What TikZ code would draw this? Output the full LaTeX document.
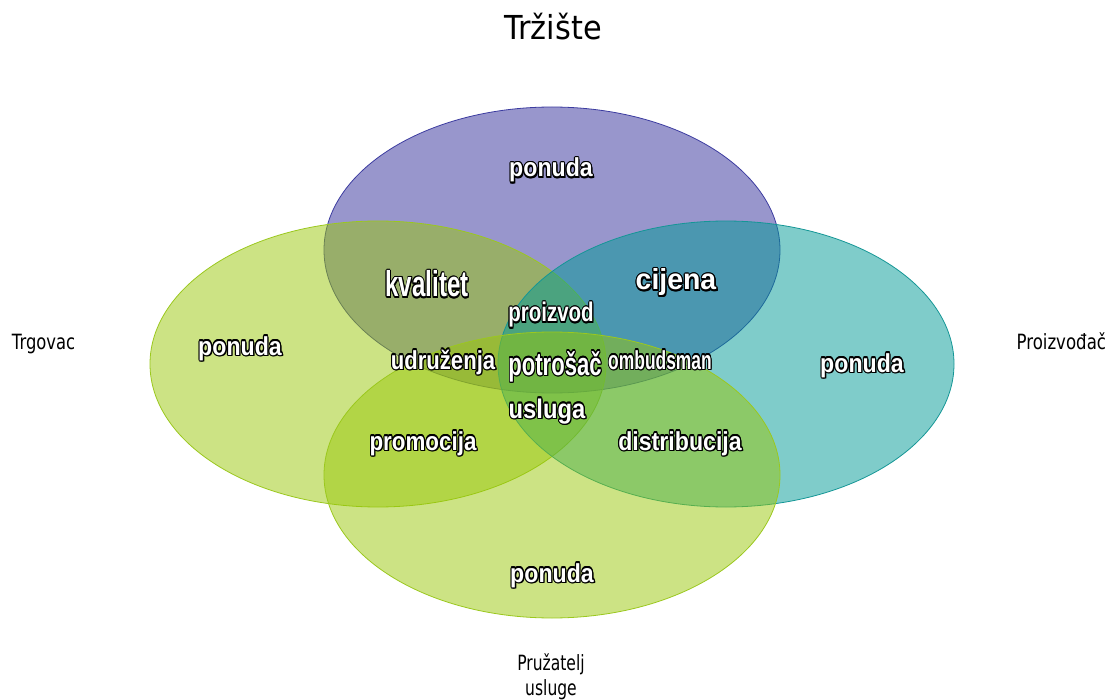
\documentclass[tikz,border=0pt]{standalone}
\usepackage{fontspec}
\usepackage{graphicx}
\setmainfont{DejaVu Sans}
\newfontfamily\lsans{Liberation Sans}
\definecolor{cTop}{RGB}{49,45,153}
\definecolor{cGreen}{RGB}{153,199,9}
\definecolor{cTeal}{RGB}{0,153,149}
\definecolor{bTop}{RGB}{60,60,160}
\definecolor{bGreen}{RGB}{155,200,30}
\definecolor{bTeal}{RGB}{20,150,150}
\newcommand\outl[1]{{%
  \leavevmode
  \rlap{\kern1.6pt\raisebox{-1.6pt}{\color{black}#1}}%
  \foreach \a in {0,30,...,330}{%
    \pgfmathsetmacro\dx{1.2*cos(\a)}%
    \pgfmathsetmacro\dy{1.2*sin(\a)}%
    \rlap{\kern\dx pt\raisebox{\dy pt}{\color{black}#1}}}%
  {\color{white}#1}}}
\newcommand\lbl[3]{\scalebox{#2}[1]{\fontsize{#1}{#1}\selectfont\lsans\bfseries\outl{#3}}}
\newcommand\plain[3]{\scalebox{#2}[1]{\fontsize{#1}{#1}\selectfont #3}}
\tikzset{
  venn/.style={fill opacity=0.5, line width=0.8pt},
  lab/.style={anchor=base, inner sep=0pt, outer sep=0pt},
}
\begin{document}
\begin{tikzpicture}[x=1pt,y=-1pt]
\useasboundingbox (0,0) rectangle (1110,700);
% ellipses
\draw[venn, fill=cTop, draw=bTop] (552,250) ellipse [x radius=228pt, y radius=143pt];
\draw[venn, fill=cGreen, draw=bGreen] (378,364) ellipse [x radius=228pt, y radius=143pt];
\draw[venn, fill=cTeal, draw=bTeal] (726,364) ellipse [x radius=228pt, y radius=143pt];
\draw[venn, fill=cGreen, draw=bGreen] (552,475) ellipse [x radius=228pt, y radius=143pt];
% outer labels
\node[lab] (title) at (553,40) {\plain{33}{0.92}{Tržište}};
\node[lab, anchor=base west] (trg) at (12,349) {\plain{21}{0.78}{Trgovac}};
\node[lab, anchor=base east] (prz) at (1106,349) {\plain{21}{0.79}{Proizvođač}};
\node[lab] (pru1) at (551,670) {\plain{21}{0.74}{Pružatelj}};
\node[lab] (pru2) at (551,695) {\plain{21}{0.74}{usluge}};
% inner labels
\node[lab] (pTop) at (551,177) {\lbl{26}{0.89}{ponuda}};
\node[lab] (pLeft) at (240,355) {\lbl{26}{0.89}{ponuda}};
\node[lab] (pRight) at (862,372) {\lbl{26}{0.89}{ponuda}};
\node[lab] (pBot) at (552,582) {\lbl{26}{0.89}{ponuda}};
\node[lab] (kval) at (427,297) {\lbl{36}{0.67}{kvalitet}};
\node[lab] (cij) at (676,290) {\lbl{29}{0.98}{cijena}};
\node[lab] (proiz) at (551,322) {\lbl{27}{0.76}{proizvod}};
\node[lab] (potr) at (555,375) {\lbl{32}{0.69}{potrošač}};
\node[lab] (usl) at (547,418) {\lbl{27}{0.88}{usluga}};
\node[lab] (udr) at (443,369) {\lbl{26}{0.85}{udruženja}};
\node[lab] (omb) at (660,369) {\lbl{26}{0.67}{ombudsman}};
\node[lab] (prom) at (423,450) {\lbl{26}{0.86}{promocija}};
\node[lab] (dist) at (680,450) {\lbl{26}{0.89}{distribucija}};
\end{tikzpicture}
\end{document}
